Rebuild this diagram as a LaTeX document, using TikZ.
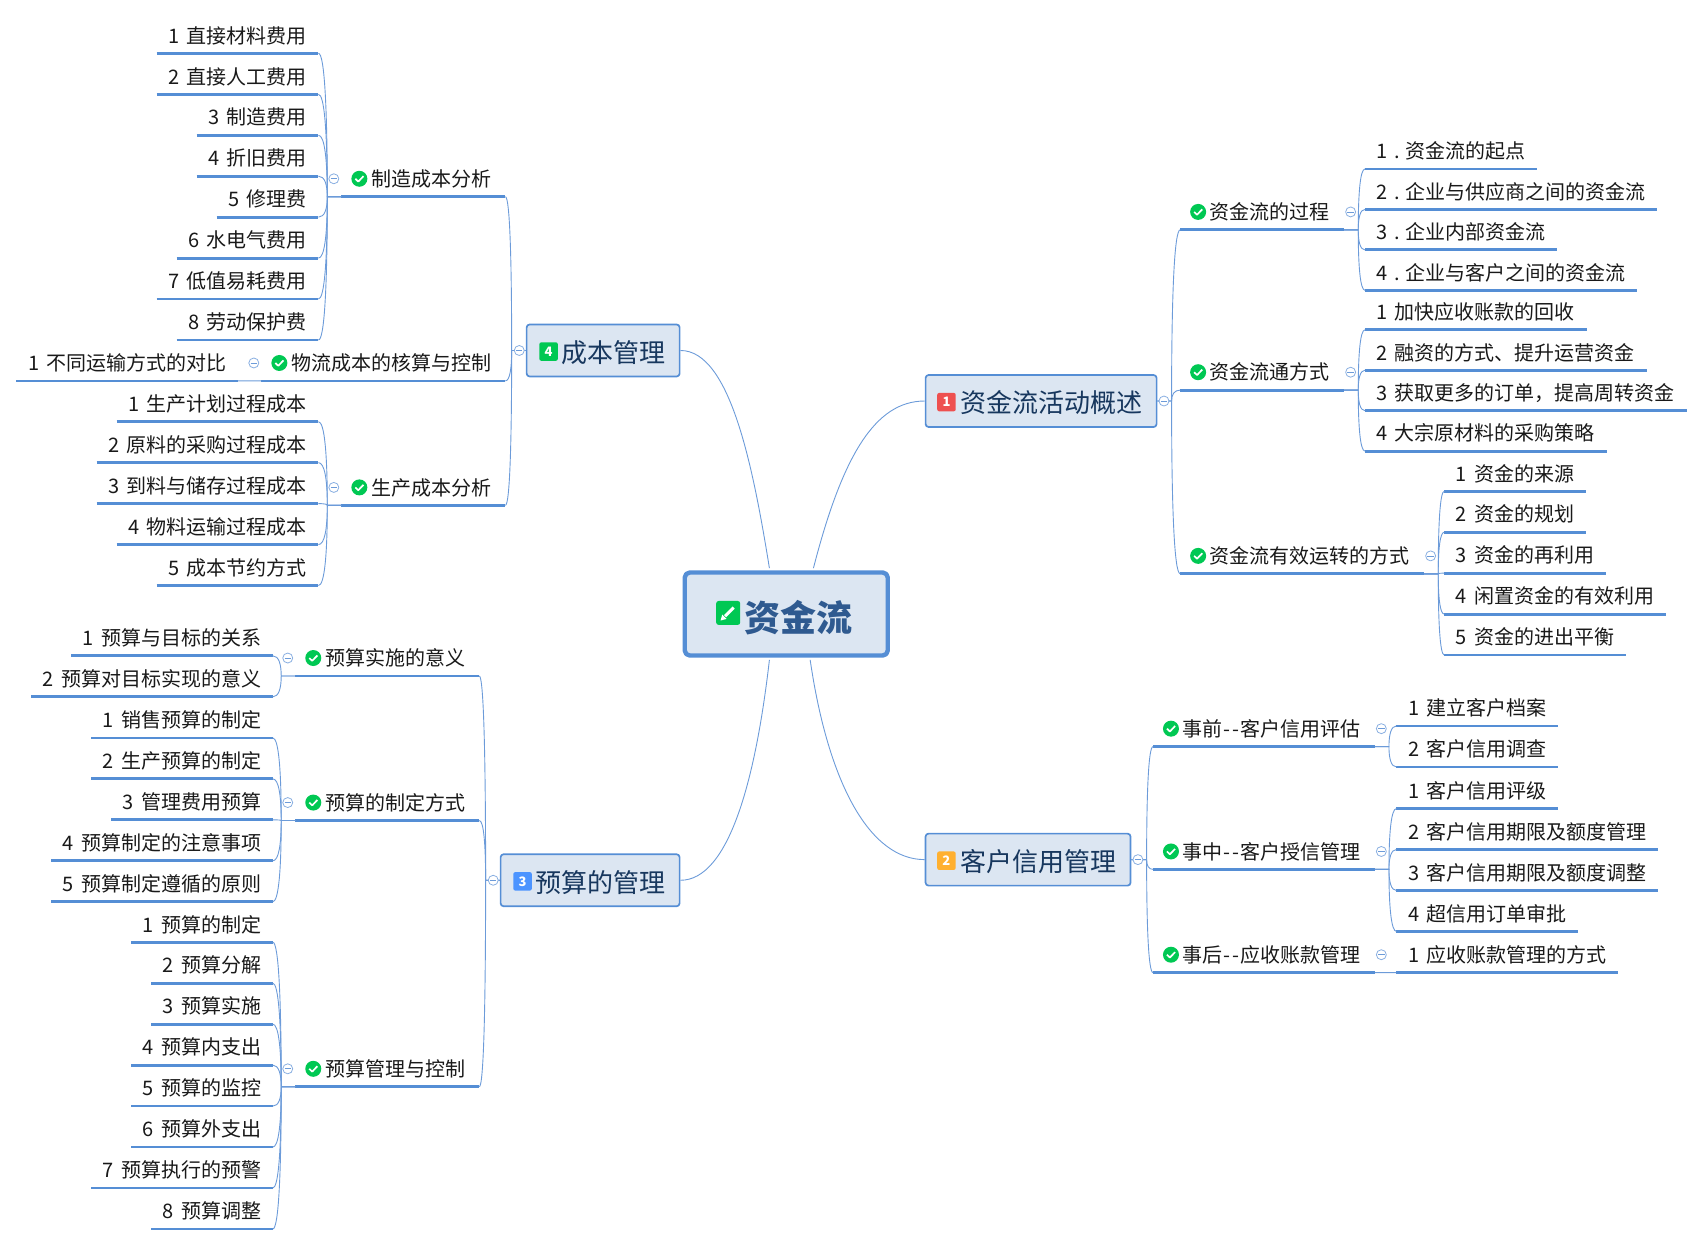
\documentclass[tikz,border=0pt]{standalone}
\usepackage{fontspec}
\setmainfont[WordSpace=1.6]{Noto Sans CJK SC}
\usetikzlibrary{calc,positioning}
\definecolor{bluemain}{HTML}{558ED5}
\definecolor{bluelink}{HTML}{6C9BD9}
\definecolor{boxfill}{HTML}{DCE6F2}
\definecolor{topictext}{HTML}{17375E}
\definecolor{roottext}{HTML}{2F5A90}
\definecolor{okgreen}{HTML}{00C853}
\definecolor{badgered}{HTML}{EE5050}
\definecolor{badgeorange}{HTML}{FFB030}
\definecolor{badgeblue}{HTML}{4C94FF}
\tikzset{
	rootbox/.style={draw=bluemain,fill=boxfill,line width=4.4pt,rounded corners=5pt,minimum width=203pt,minimum height=83pt,inner sep=0pt,text height=38pt,text depth=4pt,text=roottext,font=\fontsize{36}{40}\selectfont\bfseries},
	topic/.style={draw=bluemain,fill=boxfill,line width=1.7pt,rounded corners=3pt,minimum height=52pt,inner sep=0pt,text height=26pt,text depth=2.4pt,text=topictext,font=\fontsize{26}{30}\selectfont},
	leaf/.style={inner xsep=11.5pt,inner ysep=0pt,text height=17pt,text depth=10pt,text=black!90,font=\fontsize{20}{24}\selectfont},
	sub/.style={leaf,inner xsep=14pt},
	rule/.style={draw=bluemain,line width=2.8pt},
	link/.style={draw=bluelink,line width=.9pt},
	fold/.style={circle,draw=bluelink!80,fill=white,line width=.8pt,minimum size=10pt,inner sep=0pt},
	okdot/.style={circle,fill=okgreen,minimum size=16pt,inner sep=0pt},
	okmark/.style={draw=white,line width=1.7pt},
	badge/.style={fill=#1,rounded corners=2pt,minimum size=18.5pt,inner sep=0pt,text=white,font=\fontsize{13}{14}\selectfont\bfseries},
}
\newcommand{\curvelink}[3]{%
	\path (#1)++(#3,0) coordinate(j);
	\draw[link] (#1)--(j) .. controls ($(j)!.6!(j|-#2)$) and ($(j|-#2)!.3!(#2)$) .. (#2);
}
\newcommand{\foldmark}[2]{%
	\node[fold] (#1) at (#2) {};
	\draw[draw=bluelink,line width=.7pt] ($(#1.west)+(2,0)$)--($(#1.east)+(-2,0)$);
}
\newcommand{\subtopic}[5]{%
	\node[sub,anchor=#2] (#1) at (#3,#4) {\hspace*{15.5pt}#5};
	\draw[rule] (#1.south west)--(#1.south east);
	\node[okdot] (#1ok) at ($(#1.south west)+(16.5,-16.5)$) {};
	\draw[okmark] ($(#1ok)+(-3.7,0)$)--($(#1ok)+(-1,2.6)$)--($(#1ok)+(3.8,-2.4)$);
}
\newcommand{\rightleaves}[5]{%
	\foreach \txt [count=\i] in {#5}{
		\node[leaf,anchor=south west] (#1\i) at (#2,{#3+#4*(\i-1)}) {\txt};
		\draw[rule] (#1\i.south west)--(#1\i.south east);
		\curvelink{#1.south east}{#1\i.south west}{13}
	}
}
\newcommand{\leftleaves}[5]{%
	\foreach \txt [count=\i] in {#5}{
		\node[leaf,anchor=south east] (#1\i) at (#2,{#3+#4*(\i-1)}) {\txt};
		\draw[rule] (#1\i.south west)--(#1\i.south east);
		\curvelink{#1.south west}{#1\i.south east}{-13}
	}
}
\begin{document}
\begin{tikzpicture}[x=1.0867pt,y=-1.0867pt,line join=round]
	\useasboundingbox (0,0) rectangle (1568,1146.6);
	%==main topics
	\node[rootbox] (root) at (723.5,565) {\hspace*{24pt}资金流};
	\node[topic,minimum width=231pt] (flow) at (958,369) {\hspace*{20pt}资金流活动概述};
	\node[topic,minimum width=205pt] (credit) at (946,791) {\hspace*{20pt}客户信用管理};
	\node[topic,minimum width=179pt] (budget) at (543,810) {\hspace*{20pt}预算的管理};
	\node[topic,minimum width=153pt] (cost) at (555,322.5) {\hspace*{20pt}成本管理};
	\node[badge=okgreen,rounded corners=2.5pt,minimum size=24pt] (rootico) at ($(root.west)+(42,-1)$) {};
	\draw[white,line width=3pt] ($(rootico)+(-3,3)$)--($(rootico)+(5,-5)$);
	\fill[white] ($(rootico)+(-7,7)$)--($(rootico)+(-5.5,1.5)$)--($(rootico)+(-1.5,5.5)$)--cycle;
	\node[badge=badgered] (flowico) at ($(flow.west)+(20,1)$) {1};
	\node[badge=badgeorange] (creditico) at ($(credit.west)+(20,1)$) {2};
	\node[badge=badgeblue] (budgetico) at ($(budget.west)+(21,1)$) {3};
	\node[badge=okgreen] (costico) at ($(cost.west)+(21,1)$) {4};
	\draw[link] ($(root.north)+(25,-2)$) .. controls (775,420) and (805,369) .. (flow.west);
	\draw[link] ($(root.south)+(22,2)$) .. controls (762,720) and (800,791) .. (credit.west);
	\draw[link] ($(root.south)+(-15.5,2)$) .. controls (695,720) and (670,810) .. (budget.east);
	\draw[link] ($(root.north)+(-15.5,-2)$) .. controls (693,430) and (672,322.5) .. (cost.east);
	%==right side
	\subtopic{pa}{south west}{1086}{211.5}{资金流的过程}
	\subtopic{pb}{south west}{1086}{359}{资金流通方式}
	\subtopic{pc}{south west}{1086}{528}{资金流有效运转的方式}
	\curvelink{flow.east}{pa.south west}{13}
	\curvelink{flow.east}{pb.south west}{13}
	\curvelink{flow.east}{pc.south west}{13}
	\foldmark{flowfold}{$(flow.east)+(6,0)$}
	\foldmark{pafold}{$(pa.south east)+(6,-16.5)$}
	\foldmark{pbfold}{$(pb.south east)+(6,-16.5)$}
	\foldmark{pcfold}{$(pc.south east)+(6,-16.5)$}
	\rightleaves{pa}{1256}{155.5}{37.2}{1 .\kern-3.5pt{} 资金流的起点,2 .\kern-3.5pt{} 企业与供应商之间的资金流,3 .\kern-3.5pt{} 企业内部资金流,4 .\kern-3.5pt{} 企业与客户之间的资金流}
	\rightleaves{pb}{1256}{303.5}{37.2}{1 加快应收账款的回收,2 融资的方式、提升运营资金,3 获取更多的订单，提高周转资金,4 大宗原材料的采购策略}
	\rightleaves{pc}{1329}{452}{37.7}{1 资金的来源,2 资金的规划,3 资金的再利用,4 闲置资金的有效利用,5 资金的进出平衡}
	\subtopic{qa}{south west}{1061}{687}{事前\kern1pt-\kern2pt-\kern1pt客户信用评估}
	\subtopic{qb}{south west}{1061}{800}{事中\kern1pt-\kern2pt-\kern1pt客户授信管理}
	\subtopic{qc}{south west}{1061}{895}{事后\kern1pt-\kern2pt-\kern1pt应收账款管理}
	\curvelink{credit.east}{qa.south west}{14}
	\curvelink{credit.east}{qb.south west}{14}
	\curvelink{credit.east}{qc.south west}{14}
	\foldmark{creditfold}{$(credit.east)+(6,0)$}
	\foldmark{qafold}{$(qa.south east)+(6,-16.5)$}
	\foldmark{qbfold}{$(qb.south east)+(6,-16.5)$}
	\foldmark{qcfold}{$(qc.south east)+(6,-16.5)$}
	\rightleaves{qa}{1285}{668}{37.7}{1 建立客户档案,2 客户信用调查}
	\rightleaves{qb}{1285}{744}{37.7}{1 客户信用评级,2 客户信用期限及额度管理,3 客户信用期限及额度调整,4 超信用订单审批}
	\rightleaves{qc}{1285}{895}{37.7}{1 应收账款管理的方式}
	%==left side
	\subtopic{sa}{south east}{465}{181}{制造成本分析}
	\subtopic{sb}{south east}{465}{350.5}{物流成本的核算与控制}
	\subtopic{sc}{south east}{465}{465}{生产成本分析}
	\curvelink{cost.west}{sa.south east}{-13}
	\curvelink{cost.west}{sb.south east}{-13}
	\curvelink{cost.west}{sc.south east}{-13}
	\foldmark{costfold}{$(cost.west)+(-6,0)$}
	\foldmark{safold}{$(sa.south west)+(-7,-16.5)$}
	\foldmark{sbfold}{$(sb.south west)+(-7,-16.5)$}
	\foldmark{scfold}{$(sc.south west)+(-7,-16.5)$}
	\leftleaves{sa}{293}{49}{37.7}{1 直接材料费用,2 直接人工费用,3 制造费用,4 折旧费用,5 修理费,6 水电气费用,7 低值易耗费用,8 劳动保护费}
	\leftleaves{sb}{219}{350.5}{37.7}{1 不同运输方式的对比}
	\leftleaves{sc}{293}{388}{37.7}{1 生产计划过程成本,2 原料的采购过程成本,3 到料与储存过程成本,4 物料运输过程成本,5 成本节约方式}
	\subtopic{ra}{south east}{441}{622}{预算实施的意义}
	\subtopic{rb}{south east}{441}{755}{预算的制定方式}
	\subtopic{rc}{south east}{441}{1000}{预算管理与控制}
	\curvelink{budget.west}{ra.south east}{-13}
	\curvelink{budget.west}{rb.south east}{-13}
	\curvelink{budget.west}{rc.south east}{-13}
	\foldmark{budgetfold}{$(budget.west)+(-6,0)$}
	\foldmark{rafold}{$(ra.south west)+(-7,-16.5)$}
	\foldmark{rbfold}{$(rb.south west)+(-7,-16.5)$}
	\foldmark{rcfold}{$(rc.south west)+(-7,-16.5)$}
	\leftleaves{ra}{251}{603.5}{37.7}{1 预算与目标的关系,2 预算对目标实现的意义}
	\leftleaves{rb}{251}{679}{37.7}{1 销售预算的制定,2 生产预算的制定,3 管理费用预算,4 预算制定的注意事项,5 预算制定遵循的原则}
	\leftleaves{rc}{251}{867}{37.7}{1 预算的制定,2 预算分解,3 预算实施,4 预算内支出,5 预算的监控,6 预算外支出,7 预算执行的预警,8 预算调整}
\end{tikzpicture}
\end{document}
